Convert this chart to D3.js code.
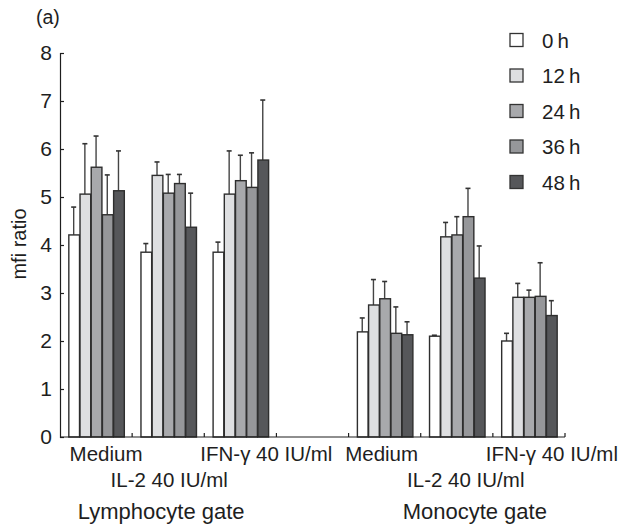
<!DOCTYPE html>
<html>
<head>
<meta charset="utf-8">
<script src="https://cdn.jsdelivr.net/npm/d3@7"></script>
<style>
  html, body { margin: 0; padding: 0; background: #fff; }
  svg { display: block; font-family: "Liberation Sans", Arial, Helvetica, sans-serif; }
</style>
</head>
<body>
<svg id="chart" width="618" height="527"></svg>
<script>
// ---- data ----
const gates = ["Lymphocyte gate", "Monocyte gate"];
const treatments = ["Medium", "IL-2 40 IU/ml", "IFN-\u03b3 40 IU/ml"];
const timepoints = ["0\u2009h", "12\u2009h", "24\u2009h", "36\u2009h", "48\u2009h"];
const yTicks = [0, 1, 2, 3, 4, 5, 6, 7, 8];

// mean mfi ratio, per group (gate x treatment), per timepoint
const lymphMedium = [4.21, 5.06, 5.62, 4.63, 5.13];
const lymphIL2    = [3.85, 5.45, 5.08, 5.28, 4.37];
const lymphIFN    = [3.85, 5.06, 5.34, 5.20, 5.77];
const monoMedium  = [2.19, 2.75, 2.88, 2.16, 2.13];
const monoIL2     = [2.10, 4.17, 4.21, 4.59, 3.31];
const monoIFN     = [2.00, 2.91, 2.91, 2.93, 2.53];

// upper error bar end (mean + SD)
const lymphMediumErr = [4.79, 6.11, 6.27, 5.46, 5.96];
const lymphIL2Err    = [4.03, 5.73, 5.47, 5.47, 5.08];
const lymphIFNErr    = [4.06, 5.96, 5.87, 5.92, 7.02];
const monoMediumErr  = [2.48, 3.28, 3.24, 2.71, 2.40];
const monoIL2Err     = [2.12, 4.47, 4.59, 5.18, 3.98];
const monoIFNErr     = [2.16, 3.20, 3.06, 3.63, 2.84];

const groups = [
  { key: "L0", gate: 0, treat: 0, vals: lymphMedium, err: lymphMediumErr },
  { key: "L1", gate: 0, treat: 1, vals: lymphIL2,    err: lymphIL2Err },
  { key: "L2", gate: 0, treat: 2, vals: lymphIFN,    err: lymphIFNErr },
  { key: "M0", gate: 1, treat: 0, vals: monoMedium,  err: monoMediumErr },
  { key: "M1", gate: 1, treat: 1, vals: monoIL2,     err: monoIL2Err },
  { key: "M2", gate: 1, treat: 2, vals: monoIFN,     err: monoIFNErr }
];
const bandDomain = ["L0", "L1", "L2", "gap", "M0", "M1", "M2"];

// ---- styles / layout ----
const colors = ["#ffffff", "#dedfe1", "#a8a9ac", "#96979a", "#56575a"];
const ink = "#1e1e1e";
const svg = d3.select("#chart");
const margin = { left: 60, right: 53, top: 53, bottom: 90 };
const W = 618, H = 527;

const x = d3.scaleBand().domain(bandDomain).range([margin.left, W - margin.right]).padding(0);
const inner = d3.scaleBand().domain(d3.range(timepoints.length)).range([0, 56]).padding(0);
const y = d3.scaleLinear().domain([0, 8]).range([H - margin.bottom, margin.top]);

const innerOffset = (x.bandwidth() - 56) / 2;

// bars
const g = svg.append("g");
groups.forEach(grp => {
  const gg = g.append("g").attr("transform", `translate(${x(grp.key) + innerOffset},0)`);
  gg.selectAll("line.err").data(grp.vals).join("line")
    .attr("x1", (d, i) => inner(i) + inner.bandwidth() / 2)
    .attr("x2", (d, i) => inner(i) + inner.bandwidth() / 2)
    .attr("y1", d => y(d))
    .attr("y2", (d, i) => y(grp.err[i]))
    .attr("stroke", "#444").attr("stroke-width", 1.4);
  gg.selectAll("line.cap").data(grp.err).join("line")
    .attr("x1", (d, i) => inner(i) + inner.bandwidth() / 2 - 2.5)
    .attr("x2", (d, i) => inner(i) + inner.bandwidth() / 2 + 2.5)
    .attr("y1", d => y(d)).attr("y2", d => y(d))
    .attr("stroke", "#333").attr("stroke-width", 1.6);
  gg.selectAll("rect").data(grp.vals).join("rect")
    .attr("x", (d, i) => inner(i) + 0.75)
    .attr("width", inner.bandwidth() - 0.5)
    .attr("y", d => y(d))
    .attr("height", d => y(0) - y(d))
    .attr("fill", (d, i) => colors[i])
    .attr("stroke", "#2e2e2e").attr("stroke-width", 1.4);
});

// y axis
const yAxis = d3.axisLeft(y).tickValues(yTicks).tickSize(-4).tickPadding(8).tickFormat(d3.format("d"));
const ya = svg.append("g").attr("transform", `translate(${margin.left},0)`).call(yAxis);
ya.select(".domain").attr("stroke", ink).attr("stroke-width", 1.2);
ya.selectAll(".tick line").attr("stroke", ink).attr("stroke-width", 1.2);
ya.selectAll(".tick text").attr("font-size", 21).attr("fill", ink)
  .attr("font-family", "'Liberation Sans', Arial, sans-serif");

// x axis: ticks at band boundaries
const xBoundaries = bandDomain.map(k => x(k) + x.bandwidth());
const xa = svg.append("g");
xa.append("line")
  .attr("x1", margin.left).attr("x2", x(bandDomain[bandDomain.length - 1]) + x.bandwidth())
  .attr("y1", y(0)).attr("y2", y(0))
  .attr("stroke", ink).attr("stroke-width", 1.2);
xa.selectAll("line.t").data(xBoundaries).join("line")
  .attr("x1", d => d).attr("x2", d => d)
  .attr("y1", y(0)).attr("y2", y(0) - 4)
  .attr("stroke", ink).attr("stroke-width", 1.2);

// category labels
const labelDx = [10, 1, 26, -3, 9, 23];
const labelRowY = [461, 487];
groups.forEach((grp, i) => {
  svg.append("text")
    .attr("x", x(grp.key) + x.bandwidth() / 2 + labelDx[i])
    .attr("y", labelRowY[grp.treat === 1 ? 1 : 0])
    .attr("text-anchor", "middle")
    .attr("font-size", 20.5).attr("fill", ink)
    .text(treatments[grp.treat]);
});
// gate labels
const gateDx = [-7, 18];
gates.forEach((gt, gi) => {
  const ks = groups.filter(d => d.gate === gi);
  const cx = (x(ks[0].key) + x(ks[ks.length - 1].key) + x.bandwidth()) / 2;
  svg.append("text")
    .attr("x", cx + gateDx[gi]).attr("y", 519)
    .attr("text-anchor", "middle")
    .attr("font-size", 22).attr("fill", ink)
    .text(gt);
});

// y label
svg.append("text")
  .attr("transform", `translate(26,${(y(0) + y(8)) / 2 - 1}) rotate(-90)`)
  .attr("text-anchor", "middle")
  .attr("font-size", 20).attr("fill", ink)
  .text("mfi ratio");

// panel tag
svg.append("text").attr("x", 36).attr("y", 24)
  .attr("font-size", 19.5).attr("fill", ink).text("(a)");

// legend
const leg = svg.append("g").attr("transform", "translate(510,0)");
timepoints.forEach((t, i) => {
  const cy = 40 + i * 35.5;
  leg.append("rect").attr("x", 0).attr("y", cy - 6.5).attr("width", 13).attr("height", 13)
    .attr("fill", colors[i]).attr("stroke", "#333").attr("stroke-width", 1.3);
  leg.append("text").attr("x", 32).attr("y", cy + 7.5)
    .attr("font-size", 20.5).attr("fill", ink).text(t);
});
</script>
</body>
</html>
